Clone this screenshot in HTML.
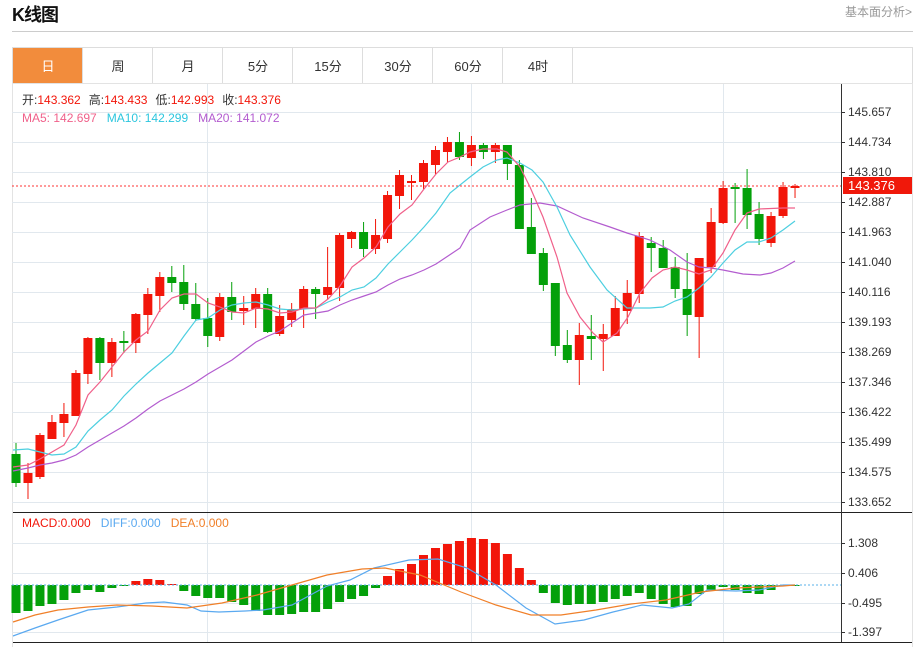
<!DOCTYPE html>
<html><head><meta charset="utf-8"><style>
body{margin:0;background:#fff;width:917px;height:647px;overflow:hidden;font-family:"Liberation Sans","Noto Sans CJK SC",sans-serif;}
.t{position:absolute;white-space:nowrap}
</style></head><body>
<div class="t" style="left:12px;top:1px;font-size:18px;font-weight:bold;color:#111;letter-spacing:-1px">K线图</div>
<div class="t" style="left:845px;top:3px;font-size:12px;color:#999">基本面分析&gt;</div>
<div style="position:absolute;left:12px;top:31px;width:901px;height:1px;background:#ccc"></div>
<svg id="s" width="917" height="647" style="position:absolute;left:0;top:0" font-family="Liberation Sans, Noto Sans CJK SC, sans-serif"></svg>
<script>
const S=document.getElementById('s');let h='';
// tabs
h+='<rect x="12.5" y="47.5" width="900" height="36" fill="#fff" stroke="#ddd"/>';
const tabs=['日','周','月','5分','15分','30分','60分','4时'];
tabs.forEach((t,i)=>{const x=13+i*70;
 if(i==0)h+=`<rect x="13" y="48" width="69" height="35" fill="#f28c3c"/>`;
 h+=`<line x1="${x+69.5}" y1="48" x2="${x+69.5}" y2="83" stroke="#ddd"/>`;
 h+=`<text x="${x+35}" y="71" text-anchor="middle" font-size="13" fill="${i?'#333':'#fff'}">${t}</text>`;});
// chart frames
h+='<rect x="12.5" y="83.5" width="900" height="429" fill="none" stroke="#e3e3e3"/>';
h+='<line x1="12" y1="512.5" x2="913" y2="512.5" stroke="#222"/>';
h+='<line x1="12" y1="642.5" x2="913" y2="642.5" stroke="#222"/>';
h+='<line x1="12.5" y1="512" x2="12.5" y2="647" stroke="#e3e3e3"/>';
h+='<line x1="912.5" y1="512" x2="912.5" y2="647" stroke="#e3e3e3"/>';
[207,471,723].forEach(x=>{h+=`<line x1="${x}.5" y1="84" x2="${x}.5" y2="512" stroke="#e1e8ee"/><line x1="${x}.5" y1="513" x2="${x}.5" y2="642" stroke="#e1e8ee"/>`});
const lv=['145.657','144.734','143.810','142.887','141.963','141.040','140.116','139.193','138.269','137.346','136.422','135.499','134.575','133.652'];
lv.forEach((l,i)=>{const y=112+i*30;h+=`<line x1="12" y1="${y}.5" x2="841" y2="${y}.5" stroke="#e1e8ee"/><line x1="841" y1="${y}.5" x2="845" y2="${y}.5" stroke="#333"/><text x="848" y="${y+4}" font-size="12" fill="#333">${l}</text>`});
const ml=[['1.308',543],['0.406',573],['-0.495',603],['-1.397',632]];
ml.forEach(([l,y])=>{h+=`<line x1="12" y1="${y}.5" x2="841" y2="${y}.5" stroke="#e1e8ee"/><line x1="841" y1="${y}.5" x2="845" y2="${y}.5" stroke="#333"/><text x="848" y="${y+4}" font-size="12" fill="#333">${l}</text>`});
h+='<line x1="841.5" y1="84" x2="841.5" y2="642" stroke="#333"/>';
// price line
h+='<line x1="12" y1="186" x2="841" y2="186" stroke="#f33" stroke-dasharray="2,2"/>';
h+='<rect x="843" y="177" width="69" height="17" fill="#f0180a"/><text x="848" y="190" font-size="13" fill="#fff">143.376</text>';
// candles [top,bottom,wt,wb,color]
const R='#f2160a',G='#04a00a';
const C=[[454,483,443,487,G],[473,483,463,499,R],[435,477,433,479,R],[422,439,415,439,R],[414,423,403,437,R],[373,416,370,416,R],[338,374,337,384,R],[338,363,337,380,G],[342,363,338,377,R],[341,343,331,353,G],
[314,343,313,353,R],[294,315,288,334,R],[277,296,272,312,R],[277,283,266,292,G],[282,304,265,310,G],[304,319,283,321,G],[318,336,298,347,G],[297,337,293,341,R],[297,312,282,320,G],[308,311,296,325,R],
[294,309,288,328,R],[294,332,288,333,G],[316,334,305,336,R],[309,320,303,327,R],[289,309,286,328,R],[289,294,287,319,G],[287,295,247,300,R],[235,288,233,301,R],[232,239,231,248,R],[232,249,222,257,G],
[235,249,219,254,R],[195,239,191,243,R],[175,196,170,209,R],[181,183,175,200,R],[163,182,160,189,R],[150,165,146,174,R],[142,152,137,162,R],[142,157,132,160,G],[145,158,136,166,R],[145,152,143,159,G],
[145,152,143,163,R],[145,164,145,180,G],[165,229,160,229,G],[227,254,198,254,G],[253,285,248,291,G],[283,346,283,356,G],[345,360,330,363,G],[335,360,323,385,R],[336,339,315,360,G],[334,339,324,371,R],
[308,336,296,336,R],[293,311,280,324,R],[236,294,232,303,R],[243,248,237,272,G],[248,268,240,268,G],[267,289,257,298,G],[289,315,253,336,G],[258,317,258,358,R],[222,267,208,273,R],[188,223,181,224,R],
[187,189,183,223,G],[188,215,169,229,G],[214,239,202,245,G],[216,243,212,247,R],[187,216,182,218,R],[186,188,184,198,R]];
const X=i=>16+i*11.985;
C.forEach((c,i)=>{const x=X(i);h+=`<line x1="${x}" y1="${c[2]}" x2="${x}" y2="${c[3]}" stroke="${c[4]}"/><rect x="${x-4.5}" y="${c[0]}" width="9" height="${Math.max(1.5,c[1]-c[0])}" fill="${c[4]}"/>`});
const pl=(pts,col,w)=>`<polyline fill="none" stroke="${col}" stroke-width="${w||1.2}" points="${pts}"/>`;
h+=pl('13,471 28,468 40,465 52,463 64,460 76,455 88,447 100,440 112,433 124,426 136,418 148,409 160,401 172,395 184,389 196,382 208,374 220,367 232,360 244,351 256,342 268,336 280,331 292,323 304,315 316,313 328,311 340,305 352,300 364,296 376,292 388,285 400,279 412,275 424,270 436,264 448,256 460,248 470,230 490,217 507,210 520,205 540,203 557,206 583,218 610,227 627,233 650,240 670,250 687,262 699,267 711,268 723,270 743,274 760,275 771,273 783,268 795,261','#b35ccf');
h+=pl('13,450 28,449 40,452 52,455 64,454 76,447 88,431 100,420 112,410 124,396 136,384 148,373 160,363 172,353 184,336 196,320 208,318 220,310 232,305 244,303 256,302 268,305 280,309 292,310 304,309 316,308 328,302 340,297 352,290 364,287 376,278 388,264 400,252 412,240 424,227 436,213 450,193 470,177 483,167 497,160 507,158 520,163 532,170 543,182 557,207 570,235 590,267 607,290 627,308 650,308 663,307 675,301 687,297 699,288 711,277 723,263 735,250 747,242 759,242 771,238 783,230 795,221','#4dcfe0');
h+=pl('13,467 28,465 40,459 52,452 64,445 76,425 88,395 100,382 112,367 124,352 136,340 148,331 160,310 172,298 184,294 196,294 208,303 220,307 232,312 244,313 256,308 268,309 280,313 292,312 304,308 316,308 328,299 340,286 352,267 364,258 376,247 388,227 400,214 412,205 424,189 436,174 448,162 460,157 470,152 483,149 497,149 507,152 520,167 530,187 543,217 557,257 567,293 580,317 593,333 603,342 617,333 628,317 640,293 652,278 663,270 675,267 687,270 699,274 711,270 723,253 735,230 747,213 759,209 783,208 795,208','#f0608a');
// MACD bars (end y; zero at 585)
const M=[613,611,606,604,600,593,590,592,588,586,581,579,580,584,591,596,598,598,602,605,611,615,615,614,612,612,609,602,599,596,588,576,569,564,555,548,544,541,538,539,543,554,568,580,593,603,605,604,604,602,599,596,593,599,604,607,606,594,590,587,590,593,594,590,586,585];
M.forEach((v,i)=>{const x=X(i)-4.5;const up=v<585;h+=`<rect x="${x}" y="${up?v:585}" width="9" height="${Math.max(1,Math.abs(v-585))}" fill="${up?R:G}"/>`});
h+='<line x1="12" y1="585" x2="841" y2="585" stroke="#5ab0e8" stroke-dasharray="2,2" stroke-width="1"/>';
h+=pl('13,636 35,628 58,620 88,610 117,607 146,603 164,602 187,605 201,611 219,612 245,611 263,610 292,605 327,586 350,580 374,568 409,560 438,559 467,568 496,585 526,608 555,624 584,620 613,612 642,605 672,608 689,604 707,590 736,591 759,590 783,585 795,585','#5aa9f0');
h+=pl('13,622 35,615 58,610 88,607 117,605 152,606 187,608 222,603 257,595 292,585 327,575 362,569 385,568 420,575 461,592 496,605 531,615 561,615 596,610 631,604 666,600 701,592 736,588 783,586 795,585','#f07f28');
// texts
h+='<text y="104" font-size="12"><tspan x="22" fill="#333">开:</tspan><tspan fill="#f2160a">143.362</tspan><tspan fill="#333" dx="8">高:</tspan><tspan fill="#f2160a">143.433</tspan><tspan fill="#333" dx="8">低:</tspan><tspan fill="#f2160a">142.993</tspan><tspan fill="#333" dx="8">收:</tspan><tspan fill="#f2160a">143.376</tspan></text>';
h+='<text y="122" font-size="12"><tspan x="22" fill="#f0608a">MA5: 142.697</tspan><tspan dx="10" fill="#2cc6de">MA10: 142.299</tspan><tspan dx="10" fill="#b35ccf">MA20: 141.072</tspan></text>';
h+='<text y="527" font-size="12"><tspan x="22" fill="#f2160a">MACD:0.000</tspan><tspan dx="10" fill="#5aa9f0">DIFF:0.000</tspan><tspan dx="10" fill="#f07f28">DEA:0.000</tspan></text>';
S.innerHTML=h;
</script>
</body></html>
